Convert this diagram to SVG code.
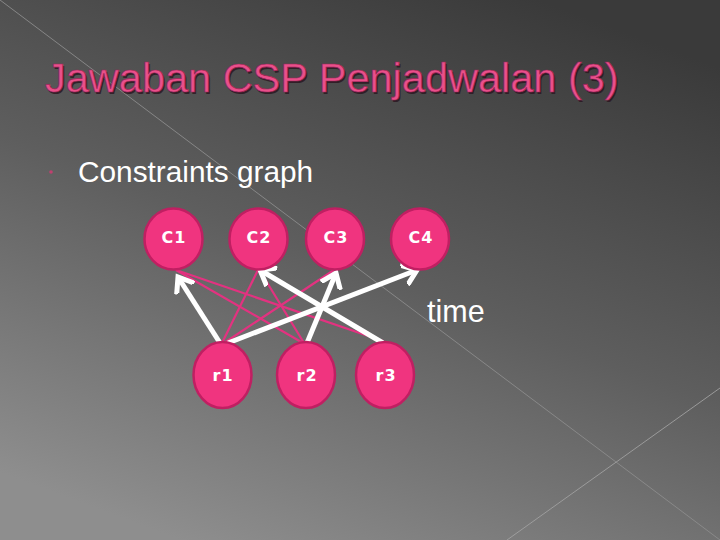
<svg xmlns="http://www.w3.org/2000/svg" width="720" height="540" viewBox="0 0 720 540">
<defs>
<linearGradient id="bg" x1="0.75" y1="0" x2="0.25" y2="1">
<stop offset="0" stop-color="#3a3a3a"/>
<stop offset="0.5" stop-color="#5e5e5e"/>
<stop offset="1" stop-color="#8e8e8e"/>
</linearGradient>
<marker id="ah" markerUnits="userSpaceOnUse" markerWidth="24" markerHeight="24" viewBox="-14 -12 24 24" refX="0" refY="0" orient="auto">
<path d="M-12,-9 L0,0 L-12,9" fill="none" stroke="#ffffff" stroke-width="5" stroke-linecap="square" stroke-linejoin="miter"/>
</marker>
<style>
.node circle,.node ellipse{fill:#f0347f;stroke:#c01f62;stroke-width:2.5}
.lbl{font-family:"DejaVu Sans",Arial,sans-serif;font-weight:bold;font-size:16px;fill:#ffffff;text-anchor:middle;letter-spacing:1px}
.pk{stroke:#e33280;stroke-width:2.2;fill:none}
.wh{stroke:#ffffff;stroke-width:5;fill:none;marker-end:url(#ah)}
</style>
</defs>
<rect width="720" height="540" fill="url(#bg)"/>
<line x1="0" y1="0" x2="720" y2="540" stroke="#8c8c8c" stroke-width="0.9"/>
<line x1="720" y1="388" x2="507" y2="540" stroke="#a0a0a0" stroke-width="0.9"/>
<text x="46.5" y="93.5" font-family="'Liberation Sans',Arial,sans-serif" font-size="41.5" fill="#2a1520" opacity="0.8">Jawaban CSP Penjadwalan (3)</text>
<text x="45" y="92" font-family="'Liberation Sans',Arial,sans-serif" font-size="41.5" fill="#e9508a" stroke="#9c2458" stroke-width="0.7">Jawaban CSP Penjadwalan (3)</text>
<circle cx="51" cy="172" r="1.8" fill="#c0406f"/>
<text x="78" y="182" font-family="'Liberation Sans',Arial,sans-serif" font-size="29.8" fill="#ffffff">Constraints graph</text>
<text x="427" y="322" font-family="'Liberation Sans',Arial,sans-serif" font-size="30.5" fill="#ffffff">time</text>
<g id="connectors">
<line class="pk" x1="176" y1="270" x2="383" y2="341"/>
<line class="pk" x1="176" y1="270" x2="303" y2="343"/>
<line class="pk" x1="258" y1="270" x2="222" y2="343"/>
<line class="pk" x1="260" y1="271" x2="304" y2="343"/>
<line class="pk" x1="224" y1="343" x2="334" y2="270"/>
<line class="wh" x1="220" y1="343" x2="178" y2="277"/>
<line class="wh" x1="228" y1="343" x2="417" y2="270"/>
<line class="wh" x1="307" y1="343" x2="336" y2="273"/>
<line class="wh" x1="383" y1="343" x2="260" y2="270"/>
</g>
<g id="C1" class="node"><ellipse cx="173.5" cy="239" rx="29" ry="30.5"/><text class="lbl" x="174" y="243">C1</text></g>
<g id="C2" class="node"><ellipse cx="258.5" cy="239" rx="29" ry="30.5"/><text class="lbl" x="259" y="243">C2</text></g>
<g id="C3" class="node"><ellipse cx="335" cy="239" rx="29" ry="30.5"/><text class="lbl" x="336" y="243">C3</text></g>
<g id="C4" class="node"><ellipse cx="420" cy="239" rx="29" ry="30.5"/><text class="lbl" x="421" y="243">C4</text></g>
<g id="r1" class="node"><ellipse cx="222.5" cy="375" rx="29" ry="33"/><text class="lbl" x="223" y="381">r1</text></g>
<g id="r2" class="node"><ellipse cx="306" cy="375" rx="29" ry="33"/><text class="lbl" x="307" y="381">r2</text></g>
<g id="r3" class="node"><ellipse cx="385" cy="375" rx="29" ry="33"/><text class="lbl" x="386" y="381">r3</text></g>
</svg>
